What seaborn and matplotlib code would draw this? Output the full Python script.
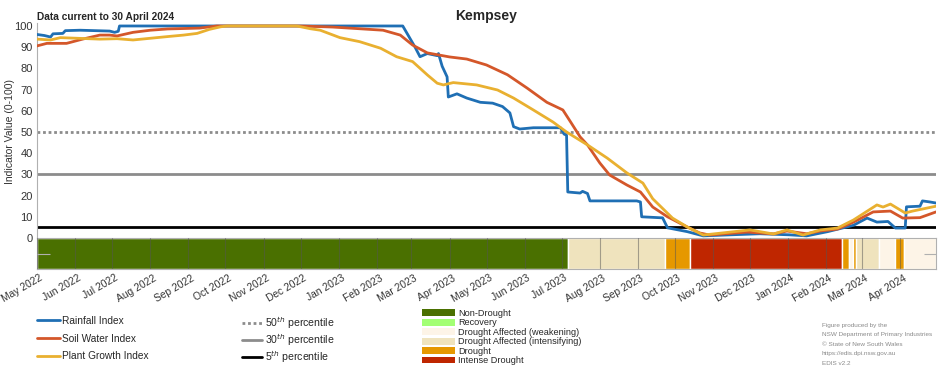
import pandas as pd
import matplotlib
matplotlib.use("Agg")
import matplotlib.pyplot as plt
import matplotlib.dates as mdates
from matplotlib.lines import Line2D
from matplotlib.patches import Patch
from matplotlib.transforms import ScaledTranslation
import seaborn as sns

# ---- data ----
rain_dates = ["2022-05-01", "2022-05-07", "2022-05-12", "2022-05-14", "2022-05-22", "2022-05-24",
              "2022-06-05", "2022-06-29", "2022-07-03", "2022-07-06", "2022-07-07", "2023-02-22",
              "2023-02-28", "2023-03-04", "2023-03-08", "2023-03-14", "2023-03-22", "2023-03-23",
              "2023-03-26", "2023-03-30", "2023-03-31", "2023-04-07", "2023-04-15", "2023-04-26",
              "2023-05-06", "2023-05-14", "2023-05-20", "2023-05-23", "2023-05-28", "2023-06-08",
              "2023-06-30", "2023-07-03", "2023-07-05", "2023-07-06", "2023-07-16", "2023-07-18",
              "2023-07-22", "2023-07-24", "2023-08-31", "2023-09-03", "2023-09-04", "2023-09-21",
              "2023-09-25", "2023-10-11", "2023-10-24", "2023-11-15", "2023-12-09", "2024-01-02",
              "2024-01-16", "2024-02-02", "2024-02-23", "2024-03-05", "2024-03-13", "2024-03-22",
              "2024-03-28", "2024-04-05", "2024-04-06", "2024-04-17", "2024-04-19", "2024-04-25",
              "2024-04-30"]
rain_vals = [96, 95.5, 94.8, 96.3, 96.5, 97.8,
             98, 97.6, 97, 97.5, 100, 100,
             94, 90, 85.5, 87, 86, 87,
             81, 76, 66.5, 68, 66, 64,
             63.6, 62, 59, 52.5, 51.4, 52,
             52, 49, 48.5, 21.7, 21.2, 22,
             21, 17.5, 17.5, 17, 10, 9.5,
             4.8, 3, 1, 1.5, 2, 1.5,
             1, 3, 6, 9.4, 7.5, 7.8,
             4.7, 4.7, 14.7, 15, 17.5, 17,
             16.5]

soil_dates = ["2022-05-01", "2022-05-09", "2022-05-25", "2022-06-07", "2022-06-21", "2022-06-29",
              "2022-07-05", "2022-07-18", "2022-08-01", "2022-08-15", "2022-09-10", "2022-09-24",
              "2022-12-01", "2022-12-27", "2023-02-06", "2023-02-20", "2023-03-02", "2023-03-14",
              "2023-04-01", "2023-04-15", "2023-05-01", "2023-05-18", "2023-06-03", "2023-06-19",
              "2023-07-02", "2023-07-08", "2023-07-16", "2023-07-22", "2023-08-01", "2023-08-09",
              "2023-08-23", "2023-09-03", "2023-09-13", "2023-09-25", "2023-10-11", "2023-10-21",
              "2023-10-29", "2023-11-29", "2023-12-20", "2023-12-31", "2024-01-16", "2024-01-27",
              "2024-02-10", "2024-02-23", "2024-03-10", "2024-03-24", "2024-04-03", "2024-04-17",
              "2024-04-30"]
soil_vals = [90.6, 91.8, 91.8, 93.8, 95.7, 95.7,
             95.3, 97, 98, 98.6, 99, 100,
             100, 99.5, 98, 95.7, 91, 87.3,
             85.4, 84.4, 81.6, 77, 70.7, 64,
             60.4, 55, 47.7, 43.9, 35.4, 29.7,
             25, 21.7, 14.6, 10, 5.2, 2.4,
             1.4, 2.8, 1.9, 3.3, 2, 3.3,
             4.2, 7.5, 12.3, 12.7, 9.4, 9.6,
             12.3]

plant_dates = ["2022-05-01", "2022-05-12", "2022-05-20", "2022-06-21", "2022-07-05", "2022-07-18",
               "2022-08-01", "2022-08-15", "2022-08-28", "2022-09-08", "2022-09-18", "2022-09-27",
               "2022-10-02", "2022-11-28", "2022-12-09", "2022-12-17", "2023-01-02", "2023-01-18",
               "2023-02-04", "2023-02-17", "2023-03-02", "2023-03-14", "2023-03-22", "2023-03-27",
               "2023-04-04", "2023-04-23", "2023-05-10", "2023-05-23", "2023-06-08", "2023-06-24",
               "2023-07-05", "2023-07-22", "2023-08-07", "2023-08-23", "2023-09-05", "2023-09-13",
               "2023-09-29", "2023-10-11", "2023-10-24", "2023-12-01", "2023-12-20", "2023-12-31",
               "2024-01-13", "2024-01-27", "2024-02-10", "2024-02-23", "2024-03-13", "2024-03-18",
               "2024-03-24", "2024-04-05", "2024-04-11", "2024-04-30"]
plant_vals = [93.8, 93.4, 94.5, 93.8, 94, 93.4,
              94.2, 95, 95.7, 96.5, 98.4, 99.6,
              100, 100, 98.7, 98, 94.5, 92.6,
              89.5, 85.5, 83.2, 76.9, 73, 72.2,
              73.3, 72.2, 69.8, 66, 60.4, 54.7,
              50, 43.9, 37.7, 30.7, 25.9, 18.5,
              9.4, 5.2, 1.4, 3.8, 1.9, 3.8,
              1.4, 3.8, 4.7, 8.5, 15.6, 14.6,
              16, 11.8, 12.7, 15]

# drought phase strip
phase_starts = ["2022-05-01", "2023-07-06", "2023-09-23", "2023-10-13", "2024-02-14", "2024-02-19",
                "2024-02-23", "2024-02-25", "2024-03-15", "2024-03-28", "2024-04-04"]
phase_ends = ["2023-07-06", "2023-09-23", "2023-10-13", "2024-02-14", "2024-02-19", "2024-02-23",
              "2024-02-25", "2024-03-15", "2024-03-28", "2024-04-04", "2024-04-30"]
phase_names = ["Non-Drought", "Drought Affected (intensifying)", "Drought", "Intense Drought",
               "Drought", "Drought Affected (weakening)", "Drought", "Drought Affected (intensifying)",
               "Drought Affected (weakening)", "Drought", "Drought Affected (weakening)"]

phase_order = ["Non-Drought", "Recovery", "Drought Affected (weakening)",
               "Drought Affected (intensifying)", "Drought", "Intense Drought"]
phase_colors = ["#4a7000", "#a3ff73", "#fdf4e7", "#efe3bd", "#e69800", "#bf2600"]

series_names = ["Rainfall Index", "Soil Water Index", "Plant Growth Index"]
series_colors = ["#1f6fb4", "#d4572a", "#e9b030"]

pct_names = ["50$^{th}$ percentile", "30$^{th}$ percentile", "5$^{th}$ percentile"]
pct_levels = [50, 30, 5]

sns.set_style("white")
plt.rcParams['font.family'] = ['Liberation Sans', 'DejaVu Sans']

fig = plt.figure(figsize=(9.52, 3.70), dpi=100)
W, H = 952, 370
ax = fig.add_axes([37 / W, (H - 238) / H, 899 / W, 215.2 / H])
ax_s = fig.add_axes([37 / W, (H - 269) / H, 899 / W, 31 / H], sharex=ax)

x0, x1 = pd.Timestamp("2022-05-01"), pd.Timestamp("2024-04-30")

# percentile reference lines
ax.axhline(pct_levels[0], color="#8c8c8c", lw=2, ls=(0, (1, 1)), zorder=1)
ax.axhline(pct_levels[1], color="#8c8c8c", lw=2, zorder=1)
ax.axhline(pct_levels[2], color="black", lw=2, zorder=1)

for dates, vals, c in [(rain_dates, rain_vals, series_colors[0]),
                       (soil_dates, soil_vals, series_colors[1]),
                       (plant_dates, plant_vals, series_colors[2])]:
    df = pd.DataFrame({"date": pd.to_datetime(dates), "value": vals})
    sns.lineplot(data=df, x="date", y="value", color=c, lw=2, ax=ax,
                 estimator=None, sort=False, zorder=3)

ax.set_xlim(x0, x1)
ax.set_ylim(0, 101.5)
ax.set_yticks(range(0, 101, 10))
ax.set_xlabel("")
ax.set_ylabel("")
for s in ["top", "right", "bottom"]:
    ax.spines[s].set_visible(False)
ax.spines["left"].set_color("#b0b0b0")
ax.tick_params(axis="x", bottom=False, labelbottom=False)
ax.tick_params(axis="y", direction="in", length=7, color="#c8c8c8", labelsize=8,
               labelcolor="#333333", pad=3)

# phase strip
starts = mdates.date2num(pd.to_datetime(phase_starts))
ends = mdates.date2num(pd.to_datetime(phase_ends))
cmap = dict(zip(phase_order, phase_colors))
ax_s.barh(y=0.5, width=ends - starts, left=starts, height=1,
          color=[cmap[p] for p in phase_names], zorder=1)
ax_s.set_ylim(0, 1)
ax_s.set_yticks([0.5])
ax_s.set_yticklabels([])
ax_s.tick_params(axis="y", direction="in", length=9, color="#b0b0b0", left=True, right=True)
ax_s.xaxis.set_major_locator(mdates.MonthLocator())
ax_s.xaxis.set_major_formatter(mdates.DateFormatter("%b %Y"))
ax_s.tick_params(axis="x", length=0, labelsize=7.4, labelcolor="#333333", pad=6)
shift = ScaledTranslation(5 / 100, 0, fig.dpi_scale_trans)
for lab in ax_s.get_xticklabels():
    lab.set_rotation(30)
    lab.set_ha("right")
    lab.set_va("center")
    lab.set_rotation_mode("anchor")
    lab.set_transform(lab.get_transform() + shift)
ax_s.set_axisbelow(False)
ax_s.grid(axis="x", color="#555555", lw=0.8, alpha=0.5)
for s in ax_s.spines.values():
    s.set_color("#b0b0b0")

# titles and labels
fig.text(486.5 / W, 1 - 16 / H, "Kempsey", ha="center", va="center", fontsize=10, fontweight="bold")
fig.text(37 / W, 1 - 17 / H, "Data current to 30 April 2024", ha="left", va="center",
         fontsize=7.3, fontweight="bold")
fig.text(10 / W, 1 - 132 / H, "Indicator Value (0-100)", rotation=90, ha="center", va="center",
         fontsize=7.5, color="#333333")

# legends
h1 = [Line2D([], [], color=c, lw=2) for c in series_colors]
fig.legend(h1, series_names, loc="upper left", bbox_to_anchor=(37 / W, 1 - 316 / H),
           frameon=False, fontsize=7.3, handlelength=2.3, handletextpad=0.2,
           labelspacing=0.75, borderpad=0, borderaxespad=0)

h2 = [Line2D([], [], color="#8c8c8c", lw=2, ls=(0, (1, 1))),
      Line2D([], [], color="#8c8c8c", lw=2),
      Line2D([], [], color="black", lw=2)]
fig.legend(h2, pct_names, loc="upper left", bbox_to_anchor=(242 / W, 1 - 315 / H),
           frameon=False, fontsize=7.6, handlelength=1.9, handletextpad=0.3,
           labelspacing=0.13, borderpad=0, borderaxespad=0)

h3 = [Patch(facecolor=c, edgecolor="none") for c in phase_colors]
fig.legend(h3, phase_order, loc="upper left", bbox_to_anchor=(422 / W, 1 - 309 / H),
           frameon=False, fontsize=6.6, handlelength=3.6, handleheight=0.75,
           handletextpad=0.35, labelspacing=0.05, borderpad=0, borderaxespad=0)

fig.text(822 / W, 1 - 323 / H,
         "Figure produced by the\nNSW Department of Primary Industries\n\u00a9 State of New South Wales\n"
         "https://edis.dpi.nsw.gov.au\nEDIS v2.2",
         ha="left", va="top", fontsize=4.6, color="#8a8a8a", linespacing=2.1)

fig.savefig("out.png", dpi=100)
